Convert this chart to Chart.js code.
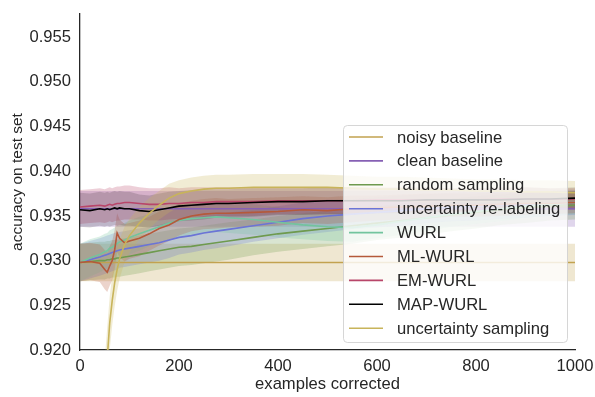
<!DOCTYPE html>
<html>
<head>
<meta charset="utf-8">
<script src="https://cdn.jsdelivr.net/npm/chart.js@4.4.0/dist/chart.umd.min.js"></script>
<style>
  html, body { margin: 0; padding: 0; background: #fff; }
  #wrap { width: 595px; height: 397px; }
</style>
</head>
<body>
<div id="wrap"><canvas id="chart" width="595" height="397"></canvas></div>
<script>
/* ---- data ---- */
const seriesNames = [
  "noisy baseline", "clean baseline", "random sampling", "uncertainty re-labeling",
  "WURL", "ML-WURL", "EM-WURL", "MAP-WURL", "uncertainty sampling"
];
const seriesColors = [
  "#c2a24f", "#8660b4", "#6e9a4e", "#6b74d6",
  "#72c49e", "#b5593a", "#b8466a", "#000000", "#c8b45a"
];

const xTicks = [0, 200, 400, 600, 800, 1000];
const yTicks = [0.920, 0.925, 0.930, 0.935, 0.940, 0.945, 0.950, 0.955];

// baselines are flat
const baseX = [0, 1000];
const noisyMean = [0.9298, 0.9298];
const noisySpread = [0.0021, 0.0021];
const cleanMean = [0.9358, 0.9358];
const cleanSpread = [0.0020, 0.0020];

// examples corrected
const xs = [0, 20, 40, 50, 55, 60, 65, 70, 75, 80, 90, 100, 120, 140, 160, 180, 200, 225, 250, 275,
            300, 350, 400, 450, 500, 550, 600, 650, 700, 750, 800, 850, 900, 950, 1000];

const randomMean = [0.9298, 0.9299, 0.9300, 0.9300, 0.9301, 0.9301, 0.9302, 0.9302, 0.9303, 0.9303,
  0.9304, 0.9305, 0.9307, 0.9309, 0.9311, 0.9313, 0.9315, 0.9316, 0.9318, 0.9320,
  0.9322, 0.9326, 0.9330, 0.9333, 0.9336, 0.9339, 0.9342, 0.9345, 0.9348, 0.9351,
  0.9354, 0.9357, 0.9359, 0.9361, 0.9362];
const randomSpread = [0.0021, 0.0021, 0.0021, 0.0021, 0.0021, 0.0021, 0.0021, 0.0021, 0.0021, 0.0021,
  0.0021, 0.0021, 0.0021, 0.0021, 0.0021, 0.0021, 0.0021, 0.0021, 0.0021, 0.0021,
  0.0021, 0.0020, 0.0020, 0.0020, 0.0020, 0.0020, 0.0019, 0.0019, 0.0019, 0.0018,
  0.0018, 0.0017, 0.0017, 0.0016, 0.0016];

const relabelMean = [0.9298, 0.9301, 0.9304, 0.9306, 0.9307, 0.9308, 0.9309, 0.9310, 0.9311, 0.9312,
  0.9313, 0.9314, 0.9316, 0.9318, 0.9320, 0.9323, 0.9326, 0.9328, 0.9331, 0.9333,
  0.9335, 0.9339, 0.9343, 0.9347, 0.9350, 0.9352, 0.9354, 0.9356, 0.9358, 0.9360,
  0.9361, 0.9362, 0.9363, 0.9364, 0.9365];
const relabelSpread = [0.0021, 0.0021, 0.0021, 0.0021, 0.0021, 0.0021, 0.0021, 0.0021, 0.0021, 0.0020,
  0.0020, 0.0020, 0.0020, 0.0020, 0.0020, 0.0020, 0.0019, 0.0019, 0.0019, 0.0019,
  0.0019, 0.0018, 0.0018, 0.0018, 0.0018, 0.0017, 0.0017, 0.0017, 0.0016, 0.0016,
  0.0016, 0.0015, 0.0015, 0.0014, 0.0014];

const wurlMean = [0.9298, 0.9303, 0.9307, 0.9310, 0.9311, 0.9314, 0.9315, 0.9317, 0.9319, 0.9321,
  0.9323, 0.9326, 0.9330, 0.9334, 0.9338, 0.9342, 0.9345, 0.9347, 0.9348, 0.9349,
  0.9348, 0.9346, 0.9343, 0.9340, 0.9338, 0.9337, 0.9340, 0.9344, 0.9348, 0.9352,
  0.9355, 0.9358, 0.9361, 0.9363, 0.9365];
const wurlSpread = [0.0021, 0.0021, 0.0020, 0.0020, 0.0020, 0.0020, 0.0020, 0.0020, 0.0020, 0.0019,
  0.0019, 0.0019, 0.0019, 0.0018, 0.0018, 0.0018, 0.0018, 0.0018, 0.0017, 0.0017,
  0.0017, 0.0017, 0.0017, 0.0016, 0.0016, 0.0016, 0.0015, 0.0015, 0.0015, 0.0014,
  0.0014, 0.0014, 0.0013, 0.0013, 0.0013];

const mlMean = [0.9298, 0.9299, 0.9297, 0.9290, 0.9287, 0.9294, 0.9300, 0.9312, 0.9331, 0.9325,
  0.9320, 0.9322, 0.9325, 0.9330, 0.9336, 0.9340, 0.9346, 0.9350, 0.9352, 0.9353,
  0.9353, 0.9354, 0.9355, 0.9357, 0.9356, 0.9358, 0.9359, 0.9360, 0.9361, 0.9362,
  0.9362, 0.9363, 0.9364, 0.9364, 0.9365];
const mlSpread = [0.0021, 0.0021, 0.0021, 0.0022, 0.0022, 0.0022, 0.0022, 0.0022, 0.0022, 0.0021,
  0.0021, 0.0020, 0.0020, 0.0019, 0.0019, 0.0018, 0.0018, 0.0017, 0.0017, 0.0017,
  0.0016, 0.0016, 0.0016, 0.0015, 0.0015, 0.0015, 0.0014, 0.0014, 0.0014, 0.0013,
  0.0013, 0.0013, 0.0013, 0.0012, 0.0012];

const emMean = [0.9360, 0.9361, 0.9362, 0.9361, 0.9362, 0.9363, 0.9362, 0.9363, 0.9364, 0.9364,
  0.9365, 0.9365, 0.9364, 0.9363, 0.9363, 0.9364, 0.9364, 0.9365, 0.9365, 0.9366,
  0.9366, 0.9366, 0.9367, 0.9367, 0.9367, 0.9367, 0.9368, 0.9368, 0.9368, 0.9368,
  0.9368, 0.9369, 0.9369, 0.9369, 0.9369];
const emSpread = [0.0019, 0.0019, 0.0019, 0.0019, 0.0019, 0.0019, 0.0019, 0.0019, 0.0019, 0.0019,
  0.0019, 0.0019, 0.0018, 0.0018, 0.0018, 0.0018, 0.0017, 0.0017, 0.0017, 0.0016,
  0.0016, 0.0016, 0.0015, 0.0015, 0.0015, 0.0015, 0.0014, 0.0014, 0.0014, 0.0013,
  0.0013, 0.0013, 0.0013, 0.0012, 0.0012];

const mapMean = [0.9357, 0.9356, 0.9358, 0.9357, 0.9358, 0.9357, 0.9358, 0.9359, 0.9358, 0.9359,
  0.9358, 0.9358, 0.9356, 0.9355, 0.9357, 0.9359, 0.9361, 0.9362, 0.9363, 0.9364,
  0.9364, 0.9365, 0.9366, 0.9366, 0.9367, 0.9367, 0.9367, 0.9367, 0.9368, 0.9368,
  0.9368, 0.9368, 0.9369, 0.9369, 0.9370];
const mapSpread = [0.0019, 0.0019, 0.0019, 0.0019, 0.0019, 0.0019, 0.0019, 0.0019, 0.0019, 0.0019,
  0.0019, 0.0019, 0.0018, 0.0018, 0.0018, 0.0018, 0.0017, 0.0017, 0.0017, 0.0016,
  0.0016, 0.0016, 0.0015, 0.0015, 0.0015, 0.0015, 0.0014, 0.0014, 0.0014, 0.0013,
  0.0013, 0.0013, 0.0013, 0.0012, 0.0012];

const uncMean = [null, null, null, 0.9150, 0.9190, 0.9230, 0.9255, 0.9275, 0.9290, 0.9302,
  0.9318, 0.9328, 0.9342, 0.9353, 0.9362, 0.9370, 0.9375, 0.9378, 0.9380, 0.9381,
  0.9381, 0.9382, 0.9382, 0.9382, 0.9382, 0.9381, 0.9380, 0.9380, 0.9379, 0.9379,
  0.9378, 0.9378, 0.9377, 0.9377, 0.9376];
const uncSpread = [null, null, null, 0.0040, 0.0035, 0.0030, 0.0028, 0.0026, 0.0024, 0.0022,
  0.0020, 0.0019, 0.0018, 0.0017, 0.0016, 0.0016, 0.0015, 0.0015, 0.0015, 0.0015,
  0.0015, 0.0015, 0.0015, 0.0015, 0.0014, 0.0014, 0.0014, 0.0014, 0.0014, 0.0013,
  0.0013, 0.0013, 0.0013, 0.0013, 0.0013];

/* ---- build datasets ---- */
const seriesX = [baseX, baseX, xs, xs, xs, xs, xs, xs, xs];
const seriesMean = [noisyMean, cleanMean, randomMean, relabelMean, wurlMean, mlMean, emMean, mapMean, uncMean];
const seriesSpread = [noisySpread, cleanSpread, randomSpread, relabelSpread, wurlSpread, mlSpread, emSpread, mapSpread, uncSpread];

function withAlpha(hex, a) {
  const n = parseInt(hex.slice(1), 16);
  return `rgba(${(n >> 16) & 255},${(n >> 8) & 255},${n & 255},${a})`;
}

const datasets = [];
// shaded bands first, all below the lines
seriesNames.forEach((name, i) => {
  const xArr = seriesX[i], m = seriesMean[i], s = seriesSpread[i];
  const upper = xArr.map((x, k) => ({ x, y: m[k] == null ? null : m[k] + s[k] }));
  const lower = xArr.map((x, k) => ({ x, y: m[k] == null ? null : m[k] - s[k] }));
  const idx = datasets.length;
  datasets.push({
    label: name + " hi", data: upper, borderWidth: 0, pointRadius: 0,
    backgroundColor: withAlpha(seriesColors[i], i === 7 ? 0.15 : 0.26),
    fill: idx + 1, order: 30 - i
  });
  datasets.push({
    label: name + " lo", data: lower, borderWidth: 0, pointRadius: 0,
    fill: false, order: 30 - i
  });
});
// mean lines
seriesNames.forEach((name, i) => {
  datasets.push({
    label: name,
    data: seriesX[i].map((x, k) => ({ x, y: seriesMean[i][k] })),
    borderColor: seriesColors[i],
    borderWidth: 1.6,
    pointRadius: 0,
    fill: false,
    tension: 0,
    order: 9 - i
  });
});

/* ---- legend drawn over the plot ---- */
const legendBox = {
  id: "legendBox",
  afterDatasetsDraw(chart) {
    const ctx = chart.ctx;
    const bx = 343, by = 125, bw = 224, bh = 217;
    ctx.save();
    ctx.beginPath();
    ctx.roundRect(bx + 0.5, by + 0.5, bw, bh, 4);
    ctx.fillStyle = "rgba(255,255,255,0.8)";
    ctx.fill();
    ctx.strokeStyle = "rgba(210,210,210,0.9)";
    ctx.lineWidth = 1;
    ctx.stroke();
    ctx.font = "16.6px 'Liberation Sans', Arial, sans-serif";
    ctx.textBaseline = "middle";
    seriesNames.forEach((name, i) => {
      const ry = by + 12 + i * 23.9;
      ctx.beginPath();
      ctx.moveTo(bx + 6, ry);
      ctx.lineTo(bx + 40, ry);
      ctx.strokeStyle = seriesColors[i];
      ctx.lineWidth = 1.6;
      ctx.stroke();
      ctx.fillStyle = "#262626";
      ctx.fillText(name, bx + 54, ry + 1);
    });
    ctx.restore();
  }
};

const tickFont = { family: "'Liberation Sans', Arial, sans-serif", size: 16.6 };

new Chart(document.getElementById("chart"), {
  type: "line",
  data: { datasets },
  plugins: [legendBox],
  options: {
    responsive: false,
    animation: false,
    devicePixelRatio: 1,
    layout: { padding: { top: 14, right: 20, left: 0, bottom: 0 } },
    plugins: { legend: { display: false }, tooltip: { enabled: false } },
    scales: {
      x: {
        type: "linear", min: 0, max: 1000,
        afterBuildTicks: s => { s.ticks = xTicks.map(v => ({ value: v })); },
        afterFit: s => { s.height = 47; s.paddingLeft = 0; s.paddingRight = 0; },
        grid: { display: false, drawTicks: false },
        border: { display: true, color: "#262626", width: 1.3 },
        ticks: { font: tickFont, color: "#262626", padding: 6, maxRotation: 0, callback: v => String(v) },
        title: { display: true, text: "examples corrected", font: tickFont, color: "#262626",
                 padding: { top: 0, bottom: 3 } }
      },
      y: {
        type: "linear", min: 0.920, max: 0.9576,
        afterBuildTicks: s => { s.ticks = yTicks.map(v => ({ value: v })); },
        afterFit: s => { s.width = 80; s.paddingTop = 0; s.paddingBottom = 0; },
        grid: { display: false, drawTicks: false },
        border: { display: true, color: "#262626", width: 1.3 },
        ticks: { font: tickFont, color: "#262626", padding: 9, callback: v => v.toFixed(3) },
        title: { display: true, text: "accuracy on test set", font: { ...tickFont, size: 15.5 }, color: "#262626",
                 padding: { top: 8, bottom: 0 } }
      }
    }
  }
});
</script>
</body>
</html>
